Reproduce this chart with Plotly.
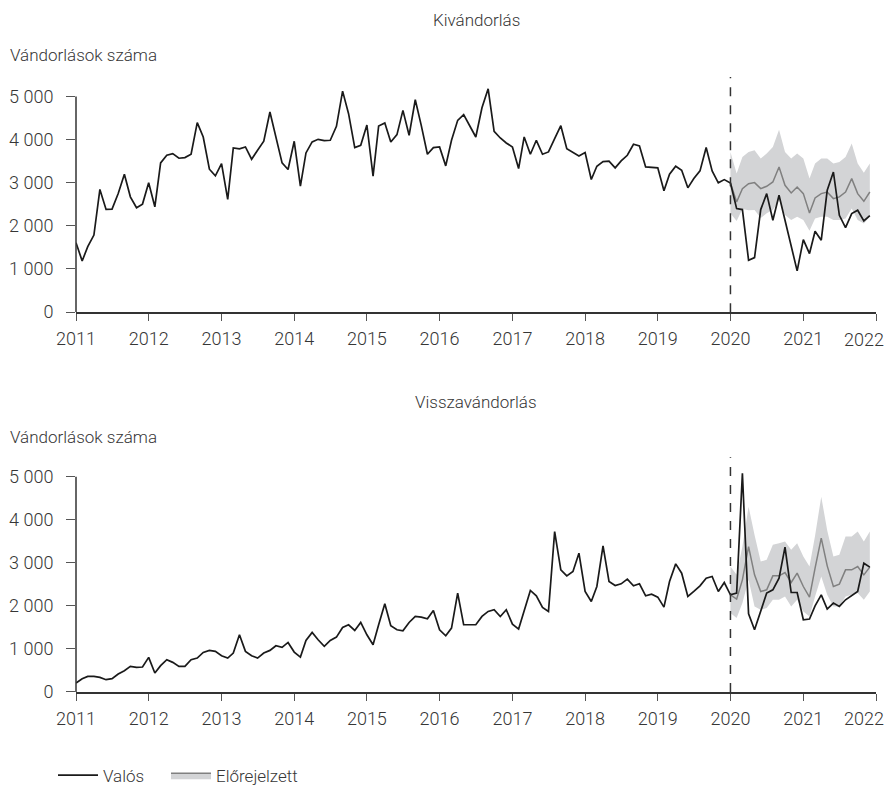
import pandas as pd
import plotly.graph_objects as go

months = pd.date_range("2011-01-01", "2021-12-01", freq="MS")
forecast_months = pd.date_range("2020-01-01", "2021-12-01", freq="MS")
year_ticks = pd.date_range("2011-01-01", "2022-01-01", freq="YS")
year_labels = ["2011", "2012", "2013", "2014", "2015", "2016",
               "2017", "2018", "2019", "2020", "2021", "2022"]

# Kivándorlás (emigration) – actual monthly values 2011-2021
emig_actual = [
    1610, 1186, 1518, 1787, 2843, 2380, 2388, 2750, 3197, 2673, 2419, 2504,
    2997, 2442, 3459, 3636, 3675, 3567, 3582, 3659, 4391, 4060, 3313, 3159,
    3444, 2612, 3806, 3783, 3829, 3544, 3752, 3960, 4638, 4076, 3459, 3305,
    3960, 2920, 3690, 3945, 4006, 3975, 3983, 4307, 5123, 4599, 3814, 3868,
    4337, 3151, 4314, 4384, 3945, 4114, 4676, 4099, 4923, 4330, 3659, 3814,
    3829, 3390, 3983, 4445, 4576, 4314, 4060, 4738, 5177, 4191, 4037, 3921,
    3829, 3328, 4060, 3659, 3983, 3659, 3713, 4022, 4322, 3790, 3713, 3621,
    3698, 3074, 3382, 3490, 3498, 3344, 3505, 3636, 3891, 3852, 3367, 3351,
    3344, 2812, 3197, 3382, 3290, 2881, 3097, 3274, 3814, 3274, 2997, 3072,
    2993, 2400, 2377, 1204, 1265, 2377, 2747, 2130, 2708, 2130, 1528, 957,
    1682, 1358, 1875, 1667, 2824, 3248, 2245, 1960, 2284, 2361, 2114, 2238,
]
emig_forecast = [
    2993, 2554, 2863, 2978, 3002, 2863, 2917, 3017, 3364, 2940, 2762, 2901,
    2747, 2299, 2647, 2747, 2785, 2631, 2670, 2785, 3094, 2747, 2569, 2785,
]
emig_upper = [
    3713, 3213, 3598, 3713, 3752, 3560, 3675, 3829, 4230, 3713, 3560, 3675,
    3560, 3097, 3444, 3560, 3560, 3444, 3482, 3598, 3906, 3444, 3228, 3444,
]
emig_lower = [
    2290, 2110, 2390, 2360, 2370, 2180, 2290, 2370, 2600, 2250, 2134, 2211,
    2134, 1888, 2173, 2211, 2211, 2134, 2134, 2173, 2404, 2134, 2057, 2211,
]

# Visszavándorlás (return migration)
ret_actual = [
    209, 309, 363, 363, 340, 286, 309, 417, 495, 595, 572, 580,
    804, 440, 611, 750, 688, 595, 595, 750, 788, 920, 966, 943,
    842, 788, 904, 1329, 943, 842, 788, 904, 966, 1074, 1036, 1151,
    927, 811, 1198, 1383, 1213, 1059, 1198, 1275, 1499, 1561, 1430, 1615,
    1329, 1097, 1561, 2048, 1538, 1445, 1422, 1615, 1754, 1739, 1700, 1893,
    1445, 1306, 1484, 2295, 1561, 1561, 1561, 1754, 1870, 1909, 1754, 1909,
    1576, 1461, 1909, 2357, 2233, 1963, 1870, 3725, 2836, 2697, 2798, 3222,
    2334, 2102, 2450, 3393, 2566, 2473, 2512, 2620, 2465, 2512, 2233, 2272,
    2202, 1971, 2566, 2975, 2759, 2218, 2334, 2465, 2643, 2682, 2334, 2542,
    2256, 2296, 5079, 1816, 1445, 1870, 2296, 2372, 2644, 3363, 2310, 2310,
    1677, 1693, 2001, 2256, 1925, 2064, 1987, 2141, 2233, 2333, 2991, 2899,
]
ret_forecast = [
    2256, 2157, 2604, 3377, 2720, 2333, 2372, 2697, 2697, 2774, 2542, 2759,
    2449, 2203, 2876, 3571, 2929, 2449, 2504, 2836, 2836, 2913, 2720, 2899,
]
ret_upper = [
    2913, 2720, 3377, 4304, 3648, 3029, 3068, 3416, 3455, 3493, 3300, 3455,
    3145, 2913, 3625, 4536, 3748, 3145, 3184, 3609, 3609, 3725, 3493, 3725,
]
ret_lower = [
    1832, 1716, 2064, 2604, 1987, 1909, 1948, 2141, 2141, 2218, 1987, 2141,
    1870, 1754, 2218, 2682, 2256, 1987, 1987, 2218, 2256, 2296, 2141, 2333,
]

titles = ["Kivándorlás", "Visszavándorlás"]
y_label = "Vándorlások száma"
y_tickvals = [0, 1000, 2000, 3000, 4000, 5000]
y_ticktext = ["0", "1 000", "2 000", "3 000", "4 000", "5 000"]
legend_names = ["Valós", "Előrejelzett"]

FONT = "Roboto"
TXT = "#363636"
BAND = "#d3d4d6"
FC_LINE = "#808080"

# the page body has an 8px default margin on every side; keep the figure
# inside the window so no scrollbars appear, and lay out in window pixels
OFF = 8
W, H = 894 - 2 * OFF, 794 - 2 * OFF
FIG_R, FIG_B = OFF + W, OFF + H

# plot-area geometry in window pixels
L, R = 76, 876
TOP, BOT = 76.6, 692.3
PW, PH = R - L, BOT - TOP


def px(xp):
    return (xp - L) / PW


def py(yp):
    return (BOT - yp) / PH


fig = go.Figure()

panels = [
    (emig_actual, emig_forecast, emig_upper, emig_lower, "x", "y"),
    (ret_actual, ret_forecast, ret_upper, ret_lower, "x2", "y2"),
]
for i, (act, fc, up, lo, xa, ya) in enumerate(panels):
    fig.add_trace(go.Scatter(x=forecast_months, y=lo, mode="lines",
                             line=dict(width=0, color=BAND), showlegend=False,
                             hoverinfo="skip", xaxis=xa, yaxis=ya))
    fig.add_trace(go.Scatter(x=forecast_months, y=up, mode="lines", fill="tonexty",
                             fillcolor=BAND, line=dict(width=0, color=BAND),
                             showlegend=False, hoverinfo="skip", xaxis=xa, yaxis=ya))
    fig.add_trace(go.Scatter(x=forecast_months, y=fc, mode="lines",
                             line=dict(width=1.5, color=FC_LINE), showlegend=False,
                             xaxis=xa, yaxis=ya))
    fig.add_trace(go.Scatter(x=months, y=act, mode="lines",
                             line=dict(width=1.7, color="#1a1a1a"),
                             name=legend_names[0], showlegend=(i == 0),
                             legend="legend", xaxis=xa, yaxis=ya))

# legend-only entry for forecast
fig.add_trace(go.Scatter(x=[None], y=[None], mode="lines", fill="toself",
                         fillcolor=BAND, line=dict(width=1.5, color=FC_LINE),
                         name=legend_names[1], legend="legend2",
                         xaxis="x", yaxis="y"))

y_doms = [[py(312), 1.0], [0.0, py(457.3)]]
yr = [0, 5450]

# last year label drawn as an annotation so it stays inside the window
x_ticktext = year_labels[:-1] + [""]

axis_common_x = dict(type="date", range=["2011-01-01", "2022-01-01"],
                     tickvals=year_ticks, ticktext=x_ticktext,
                     showline=True, linecolor="#333", linewidth=1.5,
                     ticks="outside", ticklen=7, tickcolor="#555", tickwidth=1,
                     showgrid=False, zeroline=False, domain=[0, 1], automargin=False,
                     ticklabeloverflow="allow",
                     tickfont=dict(family=FONT, size=18, color=TXT, weight=300),
                     ticklabelstandoff=3)
axis_common_y = dict(range=yr, tickvals=y_tickvals, ticktext=y_ticktext,
                     showline=False, ticks="outside", ticklen=9, tickcolor="#555",
                     tickwidth=1, showgrid=False, zeroline=False, automargin=False,
                     tickfont=dict(family=FONT, size=18, color=TXT, weight=300),
                     ticklabelstandoff=9)

legend_common = dict(orientation="h", y=py(776), xanchor="left", yanchor="middle",
                     itemwidth=40,
                     font=dict(family=FONT, size=17, color=TXT, weight=300),
                     bgcolor="rgba(0,0,0,0)")

fig.update_layout(
    width=W, height=H,
    margin=dict(l=L - OFF, r=FIG_R - R, t=TOP - OFF, b=FIG_B - BOT, autoexpand=False),
    paper_bgcolor="white", plot_bgcolor="white",
    xaxis=dict(**axis_common_x, anchor="y"),
    yaxis=dict(**axis_common_y, domain=y_doms[0], anchor="x"),
    xaxis2=dict(**axis_common_x, anchor="y2"),
    yaxis2=dict(**axis_common_y, domain=y_doms[1], anchor="x2"),
    showlegend=True,
    legend=dict(**legend_common, x=px(53)),
    legend2=dict(**legend_common, x=px(166)),
)

shapes = []
for ya, yd in (("y", "y domain"), ("y2", "y2 domain")):
    xref = "x" if ya == "y" else "x2"
    # y axis line from 0 to 5000
    shapes.append(dict(type="line", xref=xref + " domain", yref=ya, x0=0, x1=0,
                       y0=0, y1=5000, line=dict(color="#333", width=1.5)))
    # dashed line at forecast start
    shapes.append(dict(type="line", xref=xref, yref=yd, x0="2020-01-01",
                       x1="2020-01-01", y0=0, y1=1,
                       line=dict(color="#333", width=1.5, dash="dash")))
fig.update_layout(shapes=shapes)

annotations = [
    dict(text=titles[0], x=px(476), y=py(20)),
    dict(text=y_label, x=px(8), y=py(55), xanchor="left"),
    dict(text=titles[1], x=px(476), y=py(402)),
    dict(text=y_label, x=px(8), y=py(437), xanchor="left"),
]
for a in annotations:
    a.setdefault("xanchor", "center")
    fig.add_annotation(xref="paper", yref="paper", showarrow=False, yanchor="middle",
                       font=dict(family=FONT, size=17, color=TXT, weight=300), **a)

# "2022" end labels under both x axes (right-aligned to stay inside the window)
for yp in (339, 719):
    fig.add_annotation(xref="paper", yref="paper", x=px(FIG_R - 1), y=py(yp),
                       text=year_labels[-1], showarrow=False, xanchor="right",
                       yanchor="middle", borderpad=0,
                       font=dict(family=FONT, size=18, color=TXT, weight=300))

fig.write_html("out.html")
